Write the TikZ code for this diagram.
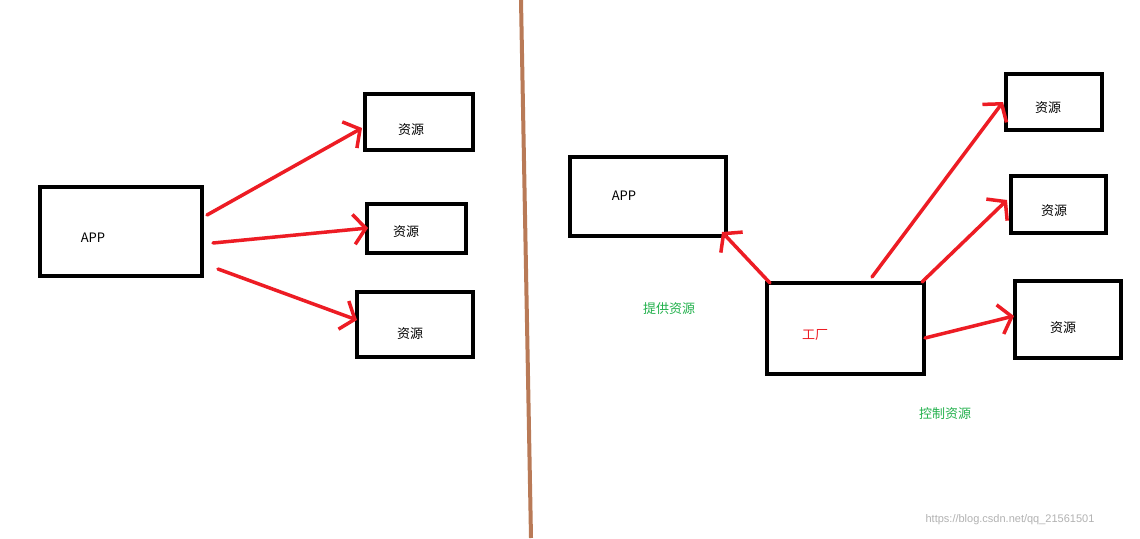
\documentclass[tikz,border=0pt]{standalone}
\usepackage{fontspec}
\setmainfont{Liberation Sans}
\newfontfamily\cjk{Noto Sans CJK SC}
\usetikzlibrary{arrows.meta}
\definecolor{arr}{RGB}{237,28,36}
\definecolor{grn}{RGB}{34,177,76}
\definecolor{brn}{RGB}{185,122,87}
\begin{document}
\begin{tikzpicture}[x=1pt,y=-1pt,
  box/.style={draw=black,line width=3.5pt},
  lbl/.style={font=\cjk\fontsize{13}{15}\selectfont},
  con/.style={draw=arr,line width=3.5pt,line cap=round,-{Straight Barb[length=12pt,width=30pt,line width=3.5pt]}}]
\useasboundingbox (0,0) rectangle (1140,538);
\fill[white] (0,0) rectangle (1140,538);
% left
\draw[box] (40,187) rectangle (202,276);
\node[lbl] (app1) at (93,238) {APP};
\draw[box] (365,94) rectangle (473,150);
\node[lbl] (r1) at (411,130) {资源};
\draw[box] (367,204) rectangle (466,253);
\node[lbl] (r2) at (406,232) {资源};
\draw[box] (357,292) rectangle (473,357);
\node[lbl] (r3) at (410,334) {资源};
\coordinate (a1s) at (207,215); \coordinate (a1e) at (362,128);
\coordinate (a2s) at (213,243); \coordinate (a2e) at (368,228);
\coordinate (a3s) at (218,269); \coordinate (a3e) at (357,320);
\draw[con] (a1s) -- (a1e);
\draw[con] (a2s) -- (a2e);
\draw[con] (a3s) -- (a3e);
% divider
\coordinate (d1) at (521,0); \coordinate (d2) at (531,538);
\draw[brn,line width=4pt] (d1) -- (d2);
% right
\draw[box] (570,157) rectangle (726,236);
\node[lbl] (app2) at (624,196) {APP};
\draw[box] (767,283) rectangle (924,374);
\node[lbl,text=arr] (fac) at (815,335) {工厂};
\draw[box] (1006,74) rectangle (1102,130);
\node[lbl] (s1) at (1048,108) {资源};
\draw[box] (1011,176) rectangle (1106,233);
\node[lbl] (s2) at (1054,211) {资源};
\draw[box] (1015,281) rectangle (1121,358);
\node[lbl] (s3) at (1063,328) {资源};
\coordinate (b0s) at (770,283); \coordinate (b0e) at (722,232);
\coordinate (b1s) at (872,277); \coordinate (b1e) at (1003,102);
\coordinate (b2s) at (922,282); \coordinate (b2e) at (1007,200);
\coordinate (b3s) at (925,338); \coordinate (b3e) at (1014,316);
\draw[con] (b0s) -- (b0e);
\draw[con] (b1s) -- (b1e);
\draw[con] (b2s) -- (b2e);
\draw[con] (b3s) -- (b3e);
\node[lbl,text=grn] (t1) at (669,309) {提供资源};
\node[lbl,text=grn] (t2) at (945,414) {控制资源};
\node[font=\fontsize{11}{13}\selectfont,text=black!30] (wm) at (1010,520) {https://blog.csdn.net/qq\_21561501};
\end{tikzpicture}
\end{document}
